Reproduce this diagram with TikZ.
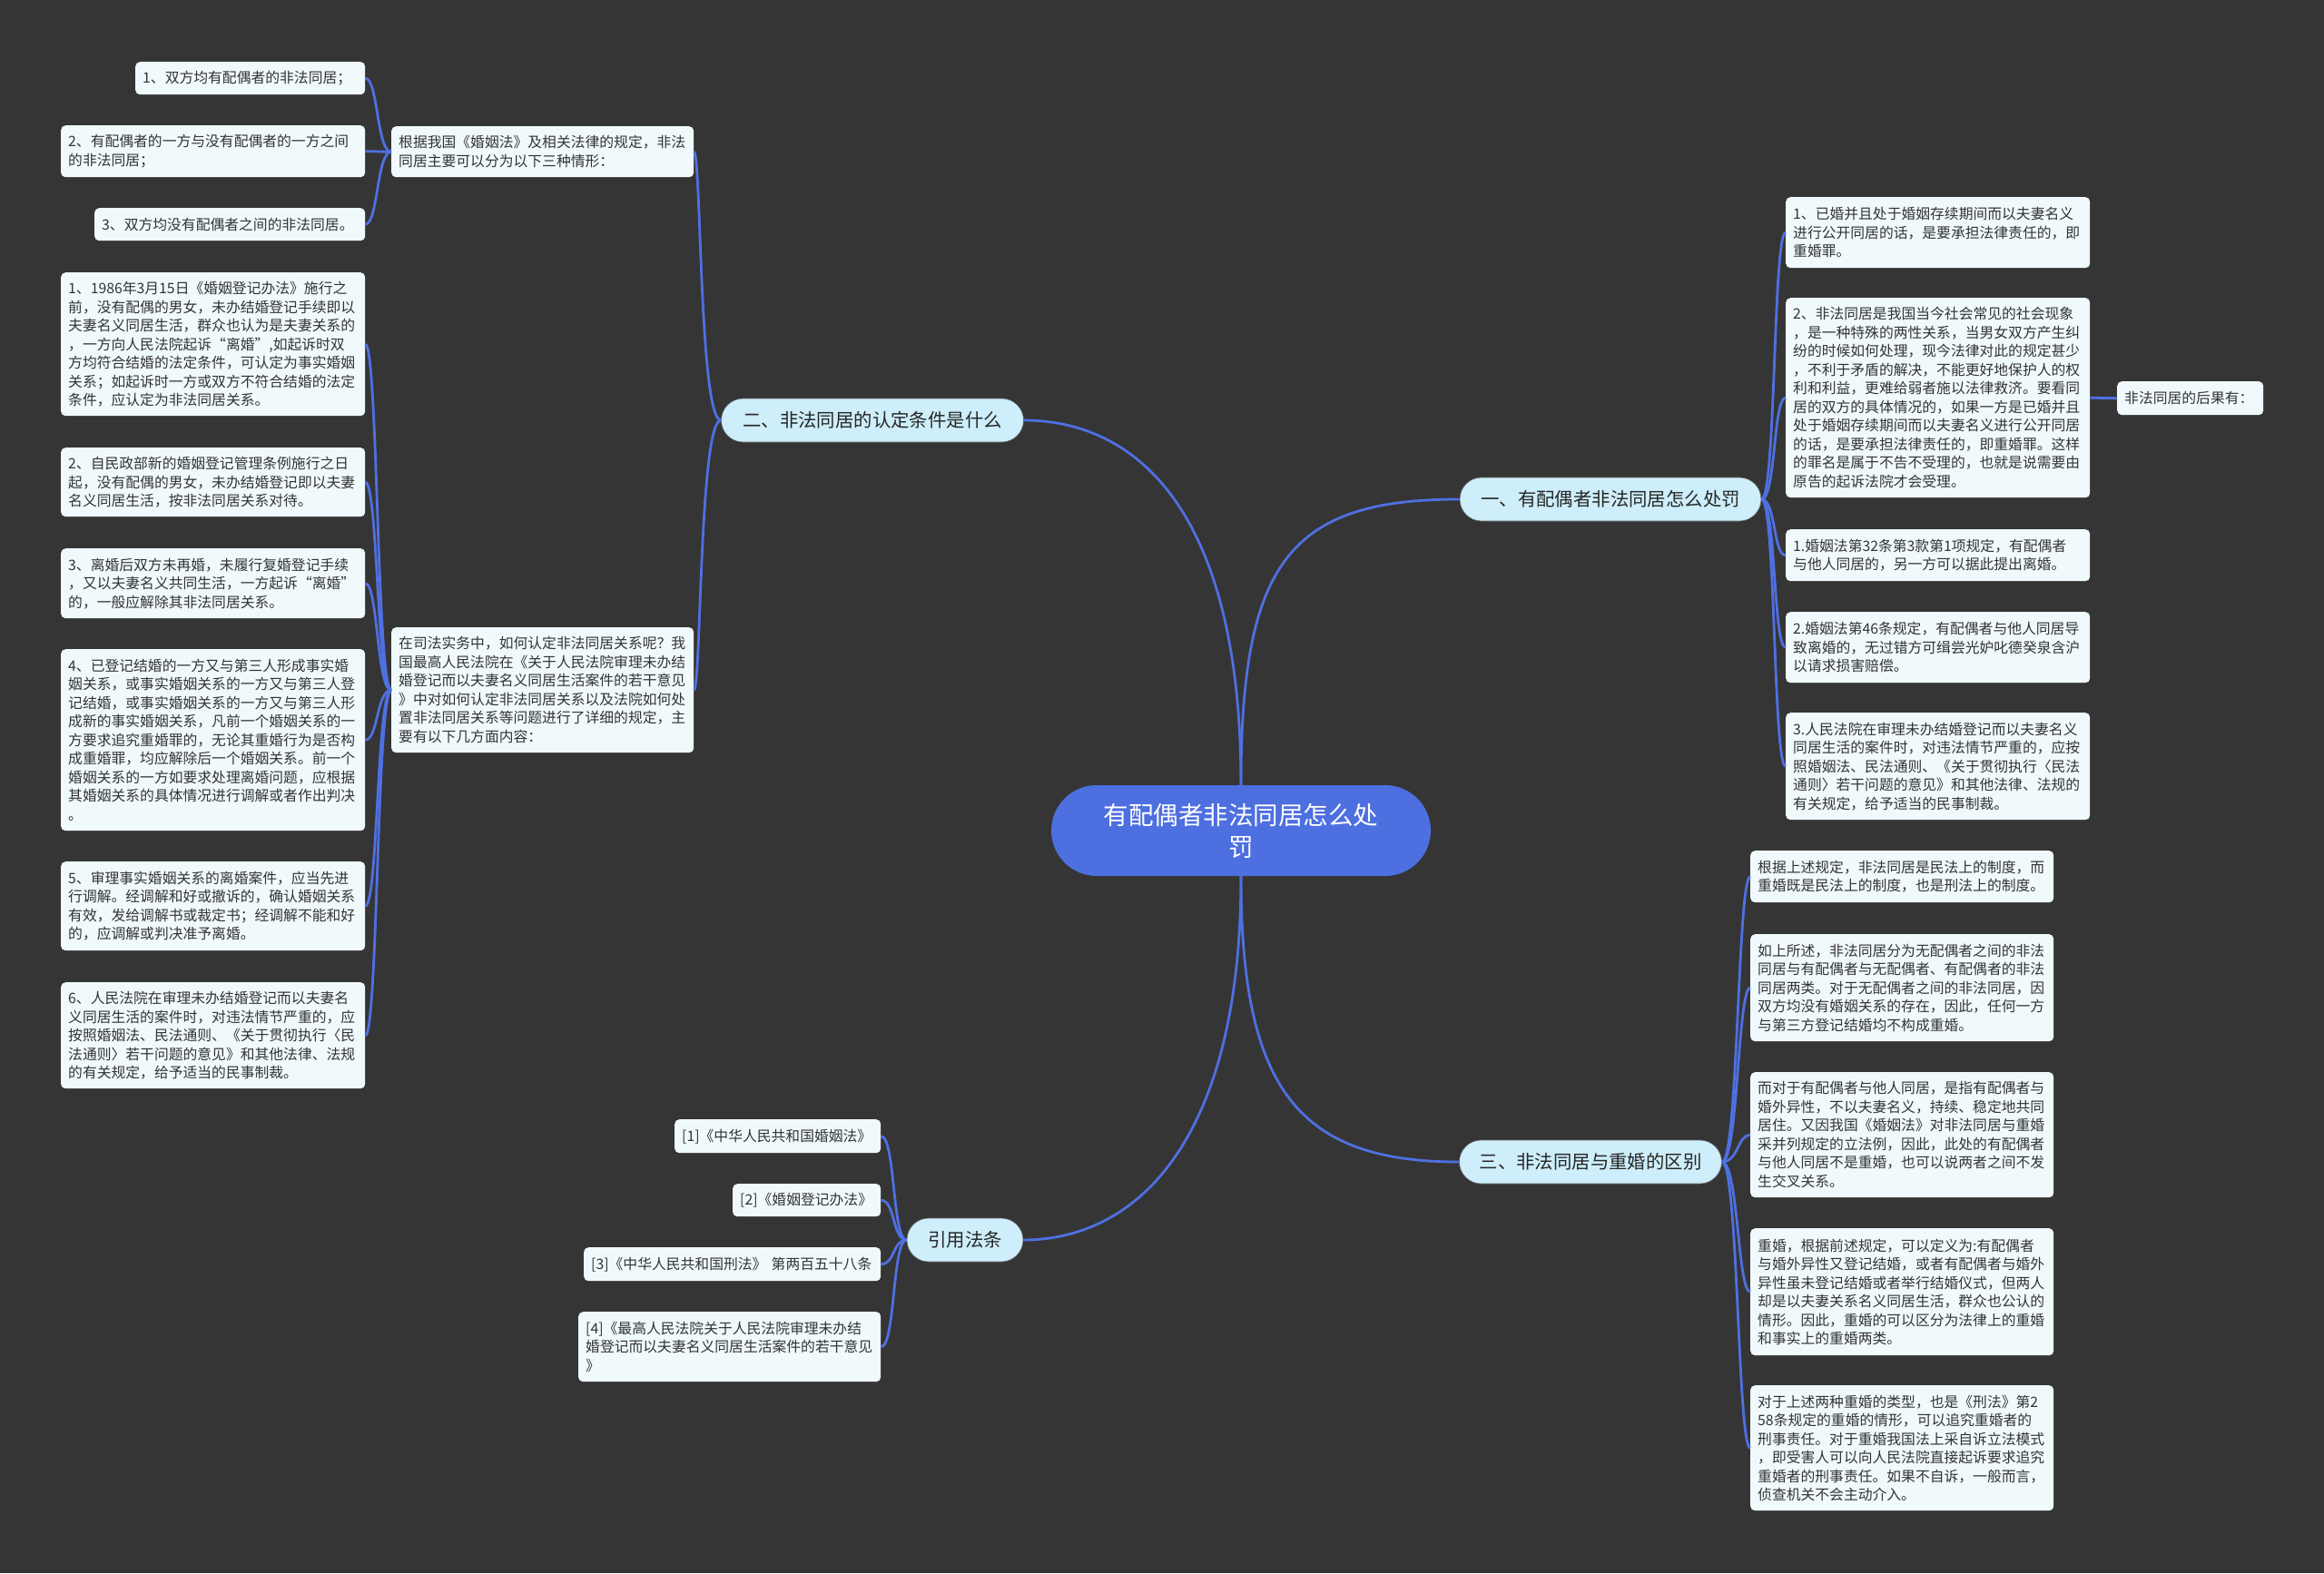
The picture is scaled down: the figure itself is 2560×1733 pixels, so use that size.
\documentclass[tikz,border=0pt]{standalone}
\usepackage{fontspec}
\setmainfont{Noto Sans CJK SC}
\definecolor{bgc}{HTML}{353535}
\definecolor{leaffill}{HTML}{F0FAFC}
\definecolor{branchfill}{HTML}{CDEEFA}
\definecolor{rootfill}{HTML}{4D6FE0}
\definecolor{linkcol}{HTML}{4F70E2}
\definecolor{txt}{HTML}{333333}
\newcommand\leaffont{\fontsize{15.8}{20.5}\selectfont}
\newcommand\branchfont{\fontsize{20.4}{26}\selectfont}
\newcommand\rootfont{\fontsize{27.5}{35}\selectfont}
\tikzset{
  leaf/.style={fill=leaffill, rounded corners=5pt, inner xsep=8pt, inner ysep=6pt,
    anchor=north west, align=left, font=\leaffont, text=txt},
  branch/.style={fill=branchfill, draw=black!60, line width=0.6pt, rounded corners=24pt,
    minimum height=48pt, inner sep=0pt, font=\branchfont, text=black!85},
  rootnode/.style={fill=rootfill, rounded corners=50pt, minimum width=418pt, minimum height=100pt,
    inner sep=0pt, align=center, font=\rootfont, text=white},
  link/.style={draw=linkcol, line width=2.8pt},
}
\begin{document}
\begin{tikzpicture}[x=1pt,y=-1pt]
\fill[bgc] (0,0) rectangle (2560,1733);
\useasboundingbox (0,0) rectangle (2560,1733);

% root
\node[rootnode] (root) at (1367,915) {有配偶者非法同居怎么处\\罚};

% branches
\node[branch, minimum width=332pt] (b1) at (1774,550) {一、有配偶者非法同居怎么处罚};
\node[branch, minimum width=333pt] (b2) at (961,463) {二、非法同居的认定条件是什么};
\node[branch, minimum width=289pt] (b3) at (1752,1280) {三、非法同居与重婚的区别};
\node[branch, minimum width=128pt] (b4) at (1063,1366) {引用法条};

% branch 2 children
\node[leaf, text width=317pt, minimum height=56pt] (s1) at (431,139) {根据我国《婚姻法》及相关法律的规定，非法\\同居主要可以分为以下三种情形：};
\node[leaf, text width=317pt, minimum height=138pt] (s2) at (431,691) {在司法实务中，如何认定非法同居关系呢？我\\国最高人民法院在《关于人民法院审理未办结\\婚登记而以夫妻名义同居生活案件的若干意见\\》中对如何认定非法同居关系以及法院如何处\\置非法同居关系等问题进行了详细的规定，主\\要有以下几方面内容：};

\node[leaf, text width=237pt, minimum height=36pt] (l1) at (149,68) {1、双方均有配偶者的非法同居；};
\node[leaf, text width=319pt, minimum height=57pt] (l2) at (67,138) {2、有配偶者的一方与没有配偶者的一方之间\\的非法同居；};
\node[leaf, text width=282pt, minimum height=36pt] (l3) at (104,229) {3、双方均没有配偶者之间的非法同居。};

\node[leaf, text width=319pt, minimum height=158pt] (a1) at (67,300) {1、1986年3月15日《婚姻登记办法》施行之\\前，没有配偶的男女，未办结婚登记手续即以\\夫妻名义同居生活，群众也认为是夫妻关系的\\，一方向人民法院起诉“离婚”,如起诉时双\\方均符合结婚的法定条件，可认定为事实婚姻\\关系；如起诉时一方或双方不符合结婚的法定\\条件，应认定为非法同居关系。};
\node[leaf, text width=319pt, minimum height=76pt] (a2) at (67,493) {2、自民政部新的婚姻登记管理条例施行之日\\起，没有配偶的男女，未办结婚登记即以夫妻\\名义同居生活，按非法同居关系对待。};
\node[leaf, text width=319pt, minimum height=77pt] (a3) at (67,604) {3、离婚后双方未再婚，未履行复婚登记手续\\，又以夫妻名义共同生活，一方起诉“离婚”\\的，一般应解除其非法同居关系。};
\node[leaf, text width=319pt, minimum height=200pt] (a4) at (67,715) {4、已登记结婚的一方又与第三人形成事实婚\\姻关系，或事实婚姻关系的一方又与第三人登\\记结婚，或事实婚姻关系的一方又与第三人形\\成新的事实婚姻关系，凡前一个婚姻关系的一\\方要求追究重婚罪的，无论其重婚行为是否构\\成重婚罪，均应解除后一个婚姻关系。前一个\\婚姻关系的一方如要求处理离婚问题，应根据\\其婚姻关系的具体情况进行调解或者作出判决\\。};
\node[leaf, text width=319pt, minimum height=98pt] (a5) at (67,949) {5、审理事实婚姻关系的离婚案件，应当先进\\行调解。经调解和好或撤诉的，确认婚姻关系\\有效，发给调解书或裁定书；经调解不能和好\\的，应调解或判决准予离婚。};
\node[leaf, text width=319pt, minimum height=117pt] (a6) at (67,1082) {6、人民法院在审理未办结婚登记而以夫妻名\\义同居生活的案件时，对违法情节严重的，应\\按照婚姻法、民法通则、《关于贯彻执行〈民\\法通则〉若干问题的意见》和其他法律、法规\\的有关规定，给予适当的民事制裁。};

% branch 1 children
\node[leaf, text width=319pt, minimum height=78pt] (r1) at (1967,217) {1、已婚并且处于婚姻存续期间而以夫妻名义\\进行公开同居的话，是要承担法律责任的，即\\重婚罪。};
\node[leaf, text width=319pt, minimum height=220pt] (r2) at (1967,328) {2、非法同居是我国当今社会常见的社会现象\\，是一种特殊的两性关系，当男女双方产生纠\\纷的时候如何处理，现今法律对此的规定甚少\\，不利于矛盾的解决，不能更好地保护人的权\\利和利益，更难给弱者施以法律救济。要看同\\居的双方的具体情况的，如果一方是已婚并且\\处于婚姻存续期间而以夫妻名义进行公开同居\\的话，是要承担法律责任的，即重婚罪。这样\\的罪名是属于不告不受理的，也就是说需要由\\原告的起诉法院才会受理。};
\node[leaf, text width=319pt, minimum height=57pt] (r3) at (1967,583) {1.婚姻法第32条第3款第1项规定，有配偶者\\与他人同居的，另一方可以据此提出离婚。};
\node[leaf, text width=319pt, minimum height=78pt] (r4) at (1967,674) {2.婚姻法第46条规定，有配偶者与他人同居导\\致离婚的，无过错方可缉尝光妒叱德癸泉含沪\\以请求损害赔偿。};
\node[leaf, text width=319pt, minimum height=118pt] (r5) at (1967,785) {3.人民法院在审理未办结婚登记而以夫妻名义\\同居生活的案件时，对违法情节严重的，应按\\照婚姻法、民法通则、《关于贯彻执行〈民法\\通则〉若干问题的意见》和其他法律、法规的\\有关规定，给予适当的民事制裁。};
\node[leaf, text width=145pt, minimum height=37pt] (hg) at (2332,420) {非法同居的后果有：};

% branch 3 children
\node[leaf, text width=318pt, minimum height=57pt] (c1) at (1928,937) {根据上述规定，非法同居是民法上的制度，而\\重婚既是民法上的制度，也是刑法上的制度。};
\node[leaf, text width=318pt, minimum height=118pt] (c2) at (1928,1029) {如上所述，非法同居分为无配偶者之间的非法\\同居与有配偶者与无配偶者、有配偶者的非法\\同居两类。对于无配偶者之间的非法同居，因\\双方均没有婚姻关系的存在，因此，任何一方\\与第三方登记结婚均不构成重婚。};
\node[leaf, text width=318pt, minimum height=138pt] (c3) at (1928,1181) {而对于有配偶者与他人同居，是指有配偶者与\\婚外异性，不以夫妻名义，持续、稳定地共同\\居住。又因我国《婚姻法》对非法同居与重婚\\采并列规定的立法例，因此，此处的有配偶者\\与他人同居不是重婚，也可以说两者之间不发\\生交叉关系。};
\node[leaf, text width=318pt, minimum height=140pt] (c4) at (1928,1353) {重婚，根据前述规定，可以定义为:有配偶者\\与婚外异性又登记结婚，或者有配偶者与婚外\\异性虽未登记结婚或者举行结婚仪式，但两人\\却是以夫妻关系名义同居生活，群众也公认的\\情形。因此，重婚的可以区分为法律上的重婚\\和事实上的重婚两类。};
\node[leaf, text width=318pt, minimum height=138pt] (c5) at (1928,1526) {对于上述两种重婚的类型，也是《刑法》第2\\58条规定的重婚的情形，可以追究重婚者的\\刑事责任。对于重婚我国法上采自诉立法模式\\，即受害人可以向人民法院直接起诉要求追究\\重婚者的刑事责任。如果不自诉，一般而言，\\侦查机关不会主动介入。};

% references
\node[leaf, text width=211pt, minimum height=37pt] (d1) at (743,1233) {[1]《中华人民共和国婚姻法》};
\node[leaf, text width=147pt, minimum height=36pt] (d2) at (807,1304) {[2]《婚姻登记办法》};
\node[leaf, text width=311pt, minimum height=37pt] (d3) at (643,1374) {[3]《中华人民共和国刑法》 第两百五十八条};
\node[leaf, text width=317pt, minimum height=77pt] (d4) at (637,1445) {[4]《最高人民法院关于人民法院审理未办结\\婚登记而以夫妻名义同居生活案件的若干意见\\》};

% root to branches
\draw[link] (root.north) .. controls (1367,620) and (1420,550) .. (b1.west);
\draw[link] (root.north) .. controls (1367,560) and (1250,463) .. (b2.east);
\draw[link] (root.south) .. controls (1367,1200) and (1430,1280) .. (b3.west);
\draw[link] (root.south) .. controls (1367,1260) and (1250,1366) .. (b4.east);

% branch 2
\foreach \n in {s1,s2}
  \draw[link] (b2.west) .. controls +(-24,0) and +(8,0) .. (\n.east);
\foreach \n in {l1,l2,l3}
  \draw[link] (s1.west) .. controls +(-16,0) and +(14,0) .. (\n.east);
\foreach \n in {a1,a2,a3,a4,a5,a6}
  \draw[link] (s2.west) .. controls +(-16,0) and +(14,0) .. (\n.east);

% branch 1
\foreach \n in {r1,r2,r3,r4,r5}
  \draw[link] (b1.east) .. controls +(16,0) and +(-14,0) .. (\n.west);
\draw[link] (r2.east) -- (hg.west);

% branch 3
\foreach \n in {c1,c2,c3,c4,c5}
  \draw[link] (b3.east) .. controls +(18,0) and +(-14,0) .. (\n.west);

% references
\foreach \n in {d1,d2,d3,d4}
  \draw[link] (b4.west) .. controls +(-16,0) and +(16,0) .. (\n.east);
\end{tikzpicture}
\end{document}
